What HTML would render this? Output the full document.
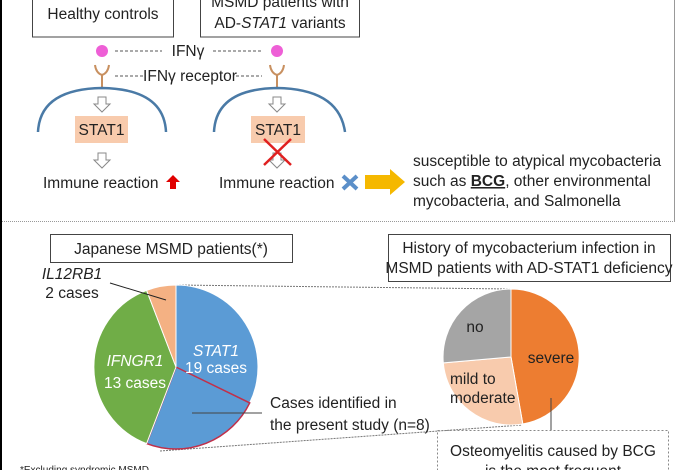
<!DOCTYPE html>
<html><head><meta charset="utf-8"><style>
html,body{margin:0;padding:0;background:#fff;}
svg{display:block;font-family:"Liberation Sans",sans-serif;}
</style></head><body>
<svg width="677" height="470" viewBox="0 0 677 470" xmlns="http://www.w3.org/2000/svg">
<rect width="677" height="470" fill="#fff"/>
<line x1="1" y1="0" x2="1" y2="470" stroke="#000" stroke-width="2"/>
<line x1="674.5" y1="0" x2="674.5" y2="222" stroke="#999" stroke-width="1"/>
<g font-size="15.5" fill="#222">
<rect x="32.5" y="-2" width="141" height="39" fill="none" stroke="#444"/>
<text x="103" y="19" text-anchor="middle">Healthy controls</text>
<rect x="200.5" y="-2" width="159" height="39" fill="none" stroke="#444"/>
<text x="280" y="7" text-anchor="middle">MSMD patients with</text>
<text x="280" y="28" text-anchor="middle">AD-<tspan font-style="italic">STAT1</tspan> variants</text>
<circle cx="102" cy="51" r="6" fill="#ee5fd6"/>
<circle cx="277" cy="51" r="6" fill="#ee5fd6"/>
<line x1="115" y1="51" x2="162" y2="51" stroke="#555" stroke-dasharray="3,2"/>
<line x1="213" y1="51" x2="262" y2="51" stroke="#555" stroke-dasharray="3,2"/>
<text x="188" y="56" text-anchor="middle">IFNγ</text>
<line x1="115" y1="76" x2="143" y2="76" stroke="#555" stroke-dasharray="3,2"/>
<line x1="236" y1="76" x2="262" y2="76" stroke="#555" stroke-dasharray="3,2"/>
<text x="190" y="81" text-anchor="middle">IFNγ receptor</text>
<g stroke="#c89060" stroke-width="2" fill="none">
<path d="M95,65 Q96,73 102,75 Q108,73 109,65 M102,75 V89"/>
<path d="M270,65 Q271,73 277,75 Q283,73 284,65 M277,75 V89"/>
</g>
<path d="M38,132 Q40,89 102,88 Q164,89 166,132" fill="none" stroke="#4a7aa6" stroke-width="2.5"/>
<path d="M214,132 Q216,89 277,88 Q339,89 345,132" fill="none" stroke="#4a7aa6" stroke-width="2.5"/>
<g fill="#fff" stroke="#888" stroke-width="1">
<path d="M98,97 h8 v7 h4 l-8,8 l-8,-8 h4 z"/>
<path d="M98,153 h8 v7 h4 l-8,8 l-8,-8 h4 z"/>
<path d="M273,97 h8 v7 h4 l-8,8 l-8,-8 h4 z"/>
<path d="M273,153 h8 v7 h4 l-8,8 l-8,-8 h4 z"/>
</g>
<rect x="75" y="116" width="53" height="27" fill="#f8cbad"/>
<text x="101.5" y="135" text-anchor="middle">STAT1</text>
<rect x="251" y="116" width="54" height="27" fill="#f8cbad"/>
<text x="278" y="135" text-anchor="middle">STAT1</text>
<path d="M264,139 L291,165 M291,139 L264,165" stroke="#e02020" stroke-width="2.5"/>
<text x="43" y="188">Immune reaction</text>
<path d="M173,175 l7,7 h-4 v7 h-6 v-7 h-4 z" fill="#e00000"/>
<text x="219" y="188">Immune reaction</text>
<path d="M343,176 L357,189 M357,176 L343,189" stroke="#5b8fc9" stroke-width="4"/>
<path d="M365,175 h25 v-6 l15,13 l-15,13 v-6 h-25 z" fill="#f5b800"/>
<text><tspan x="413" y="166">susceptible to atypical mycobacteria</tspan><tspan x="413" y="186">such as <tspan font-weight="bold" text-decoration="underline">BCG</tspan>, other environmental</tspan><tspan x="413" y="206">mycobacteria, and Salmonella</tspan></text>
<line x1="2" y1="221.5" x2="674" y2="221.5" stroke="#999" stroke-dasharray="1,1"/>
<rect x="50.5" y="234.5" width="242" height="28" fill="none" stroke="#444"/>
<text x="171" y="254" text-anchor="middle">Japanese MSMD patients(*)</text>
<path d="M176,285 L510,289" stroke="#777" stroke-dasharray="2,1"/>
<path d="M160,451 L522,425" stroke="#777" stroke-dasharray="2,1"/>
<path d="M176,367 L176,285 A82,82 0 0 1 249.7,402.9 Z" fill="#5b9bd5" stroke="#fff"/>
<path d="M176,367 L249.7,402.9 A82,82 0 0 1 146.6,443.6 Z" fill="#5b9bd5" stroke="#c0304a" stroke-width="1.5"/>
<path d="M176,367 L146.6,443.6 A82,82 0 0 1 146.6,290.4 Z" fill="#70ad47" stroke="#fff"/>
<path d="M176,367 L146.6,290.4 A82,82 0 0 1 176,285 Z" fill="#f4b183" stroke="#fff"/>
<text x="216" y="356" text-anchor="middle" fill="#fff" font-style="italic">STAT1</text>
<text x="216" y="373" text-anchor="middle" fill="#fff">19 cases</text>
<text x="135" y="366" text-anchor="middle" fill="#fff" font-style="italic">IFNGR1</text>
<text x="135" y="388" text-anchor="middle" fill="#fff">13 cases</text>
<text x="72" y="279" text-anchor="middle" font-style="italic">IL12RB1</text>
<text x="72" y="298" text-anchor="middle">2 cases</text>
<line x1="110" y1="283" x2="166" y2="300" stroke="#222"/>
<line x1="192" y1="413" x2="262" y2="413" stroke="#444"/>
<text x="270" y="408">Cases identified in</text>
<text x="270" y="430">the present study (n=8)</text>
<text x="20" y="473" font-size="10">*Excluding syndromic MSMD</text>
<rect x="388.5" y="234.5" width="282" height="47" fill="none" stroke="#444"/>
<text x="529" y="253" text-anchor="middle">History of mycobacterium infection in</text>
<text x="529" y="273" text-anchor="middle">MSMD patients with AD-STAT1 deficiency</text>
<path d="M511,357 L511,289 A68,68 0 0 1 522.8,424 Z" fill="#ed7d31" stroke="#fff"/>
<path d="M511,357 L522.8,424 A68,68 0 0 1 443.3,362.9 Z" fill="#f8cbad" stroke="#fff"/>
<path d="M511,357 L443.3,362.9 A68,68 0 0 1 511,289 Z" fill="#a5a5a5" stroke="#fff"/>
<text x="475" y="332" text-anchor="middle">no</text>
<text x="551" y="363" text-anchor="middle">severe</text>
<text x="450" y="384">mild to</text>
<text x="450" y="403">moderate</text>
<line x1="551" y1="398" x2="551" y2="430" stroke="#444"/>
<rect x="437.5" y="430.5" width="231" height="45" fill="none" stroke="#888" stroke-dasharray="2,2"/>
<text x="553" y="456" text-anchor="middle">Osteomyelitis caused by BCG</text>
<text x="553" y="476" text-anchor="middle">is the most frequent</text>
</g>
</svg>
</body></html>
